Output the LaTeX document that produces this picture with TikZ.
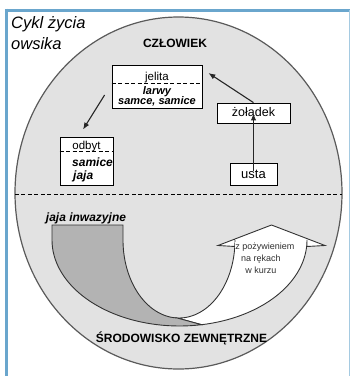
\documentclass[tikz,border=0pt]{standalone}
\usepackage{fontspec}
\setmainfont{Liberation Sans}
\usetikzlibrary{arrows.meta}
\definecolor{frameblue}{HTML}{6AA6CD}
\definecolor{ellfill}{HTML}{E2E2E2}
\definecolor{bandgray}{HTML}{B3B3B3}
\definecolor{ellline}{HTML}{5A5A5A}
\definecolor{txtgray}{HTML}{303030}
\begin{document}
\begin{tikzpicture}[x=1pt,y=-1pt,
  stagebox/.style={draw=black, fill=white, line width=0.8pt, inner sep=0pt},
  arr/.style={draw=black!85, line width=1.1pt, -{Latex[length=7pt,width=5.5pt]}},
  sepline/.style={draw=black, line width=0.8pt, dash pattern=on 4pt off 2.5pt},
  lbl/.style={inner sep=0pt, anchor=base},
  bandline/.style={draw=black!80, line width=0.9pt}]
\useasboundingbox (0,0) rectangle (350,376);
\fill[white] (0,0) rectangle (350,376);
% frame
\draw[frameblue, line width=3pt] (5,10) -- (350,10);
\draw[frameblue, line width=3pt] (6.5,8.5) -- (6.5,376);
\draw[frameblue!60, line width=1pt] (349,10) -- (349,376);
% big ellipse
\draw[ellline, fill=ellfill, line width=1.2pt] (178.5,193) ellipse [x radius=163.5, y radius=176];
\draw[sepline] (15,194) -- (342,194);
% title
\node[lbl, anchor=base west, font=\fontsize{16.5}{20}\selectfont\itshape] (t1) at (11,28) {Cykl życia};
\node[lbl, anchor=base west, font=\fontsize{16.5}{20}\selectfont\itshape] (t2) at (11,49) {owsika};
\node[lbl, font=\fontsize{12}{14}\selectfont\bfseries] (czl) at (175,47) {CZŁOWIEK};
% jelita box
\node[stagebox, minimum width=90pt, minimum height=43pt] (jelita) at (157,86.5) {};
\draw[sepline] (jelita.west |- 0,83) -- (jelita.east |- 0,83);
\node[lbl, font=\fontsize{11.5}{13}\selectfont] (jl1) at (157,80) {jelita};
\node[lbl, font=\fontsize{11}{13}\selectfont\bfseries\itshape] (jl2) at (157,94) {larwy};
\node[lbl, font=\fontsize{11}{13}\selectfont\bfseries\itshape] (jl3) at (157,104.5) {samce, samice};
% odbyt box
\node[stagebox, minimum width=53pt, minimum height=48pt] (odbyt) at (86.5,161) {};
\draw[sepline] (odbyt.west |- 0,151.5) -- (odbyt.east |- 0,151.5);
\node[lbl, font=\fontsize{11.5}{13}\selectfont] (od1) at (86.5,149) {odbyt};
\node[lbl, anchor=base west, font=\fontsize{12}{13}\selectfont\bfseries\itshape] (od2) at (72,166.5) {samice};
\node[lbl, anchor=base west, font=\fontsize{12}{13}\selectfont\bfseries\itshape] (od3) at (73,179) {jaja};
% zoladek and usta
\node[stagebox, minimum width=73pt, minimum height=20pt, font=\fontsize{12.5}{14}\selectfont] (zol) at (253.5,113) {żołądek};
\node[stagebox, minimum width=47pt, minimum height=22pt, font=\fontsize{13}{14}\selectfont] (usta) at (253.5,174) {usta};
% arrows
\draw[arr] ([yshift=-8pt]usta.north) -- ([yshift=10pt]zol.south);
\draw[arr] (zol.north) -- ([shift={(6,-13.5)}]jelita.east);
\draw[arr] ([shift={(-7,8.5)}]jelita.west) -- ([shift={(-3.5,-7)}]odbyt.north);
% white curved arrow
\filldraw[fill=white, bandline]
  plot[domain=80:0, samples=40] ({179.5+127.5*cos(\x)},{240+86*sin(\x)})
  -- (307,246.5) -- (325,245.5) -- (271.5,225) -- (218,245.5) -- (235,246.5) -- (235,240)
  -- plot[domain=0:92, samples=40] ({179+56*cos(\x)},{240+78*sin(\x)}) -- cycle;
% gray band
\filldraw[fill=bandgray, bandline]
  (52,225) -- (52,240)
  -- plot[domain=180:80, samples=40] ({179.5+127.5*cos(\x)},{240+86*sin(\x)})
  -- plot[domain=92:180, samples=40] ({179+56*cos(\x)},{240+78*sin(\x)})
  -- (123,225) -- cycle;
\node[lbl, font=\fontsize{12}{13}\selectfont\bfseries\itshape] (jinw) at (86,221.5) {jaja inwazyjne};
% arrow texts
\node[lbl, fill=white, inner sep=0.6pt, text=txtgray, font=\fontsize{9}{10}\selectfont] (a1) at (265,249) {z pożywieniem};
\node[lbl, text=txtgray, font=\fontsize{9}{10}\selectfont] (a2) at (261,261) {na rękach};
\node[lbl, text=txtgray, font=\fontsize{9}{10}\selectfont] (a3) at (261,273) {w kurzu};
\node[lbl, font=\fontsize{12}{14}\selectfont\bfseries] (srod) at (181.5,342) {ŚRODOWISKO ZEWNĘTRZNE};
\end{tikzpicture}
\end{document}
